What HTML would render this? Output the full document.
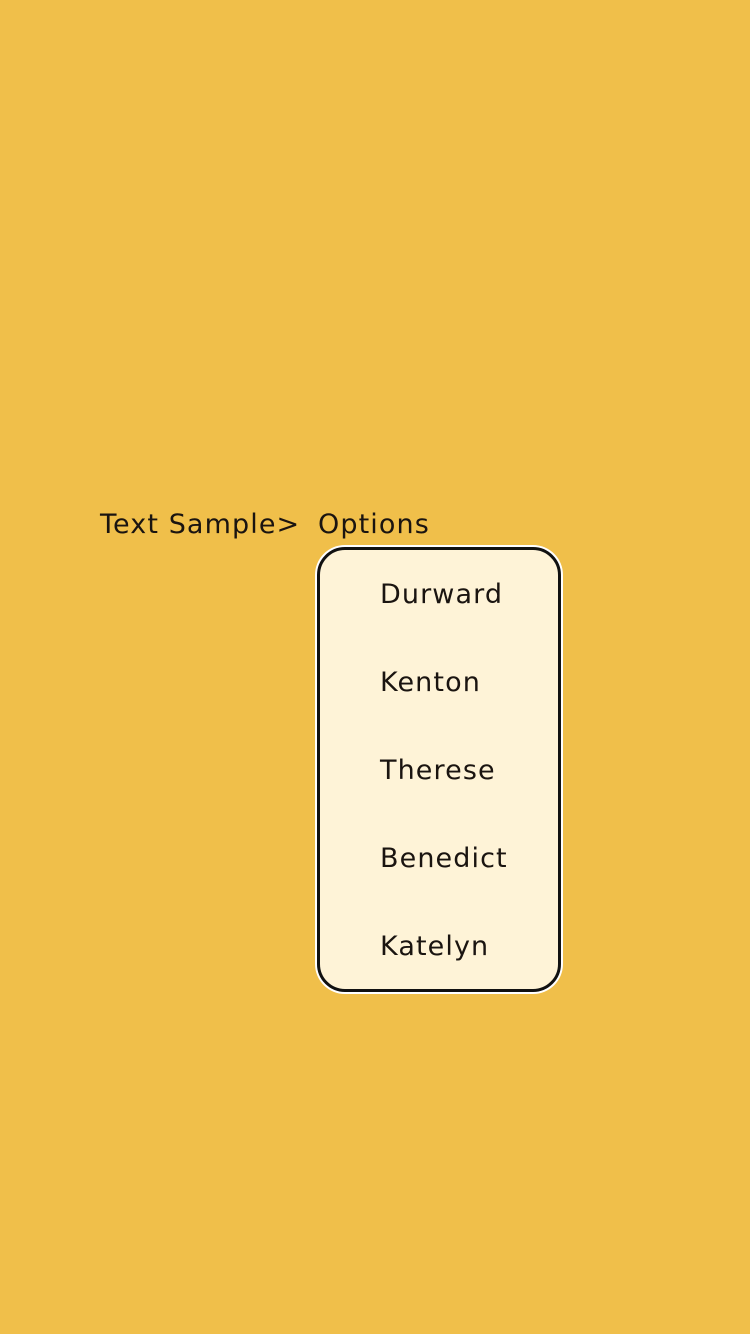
<!DOCTYPE html>
<html><head><style>
body{margin:0;width:750px;height:1334px;background:#f0bf4a;position:relative;font-family:"DejaVu Sans","Liberation Sans",sans-serif;color:#1a1410;overflow:hidden}
.t{position:absolute;font-size:27px;line-height:28px;white-space:nowrap;letter-spacing:1.1px}
.box{position:absolute;left:317px;top:547px;width:238px;height:439px;background:#fef3d7;border:3px solid #111;border-radius:28px;box-shadow:0 0 0 2px #fff}
</style></head><body>
<div class="t" style="left:100px;top:511px">Text Sample&gt;</div>
<div class="t" style="left:318px;top:511px">Options</div>
<div class="box"></div>
<div class="t" style="left:380px;top:581px">Durward</div>
<div class="t" style="left:380px;top:669px">Kenton</div>
<div class="t" style="left:380px;top:757px">Therese</div>
<div class="t" style="left:380px;top:845px">Benedict</div>
<div class="t" style="left:380px;top:933px">Katelyn</div>
</body></html>
